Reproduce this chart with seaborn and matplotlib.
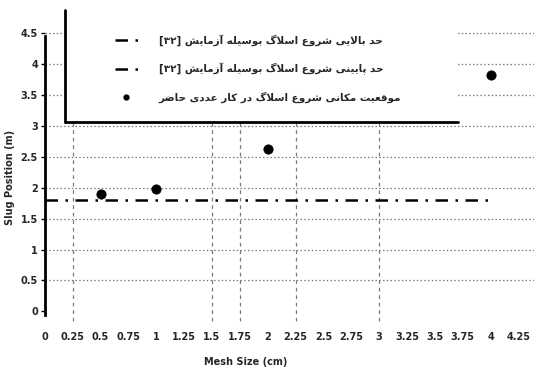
import matplotlib
matplotlib.use("Agg")
import matplotlib.pyplot as plt
from matplotlib.lines import Line2D
from matplotlib.patches import Rectangle
import seaborn as sns
import pandas as pd

# ---- data -------------------------------------------------------------
mesh_size = [0.5, 1.0, 2.0, 4.0]
slug_position = [1.89, 1.98, 2.63, 3.82]

lower_limit_x = [0.0, 4.0]
lower_limit_y = [1.8, 1.8]

x_ticks = [0, 0.25, 0.5, 0.75, 1, 1.25, 1.5, 1.75, 2, 2.25, 2.5, 2.75,
           3, 3.25, 3.5, 3.75, 4, 4.25]
y_ticks = [0, 0.5, 1, 1.5, 2, 2.5, 3, 3.5, 4, 4.5]
x_grid = [0.25, 1.5, 1.75, 2.25, 3.0]

label_upper = "حد بالایی شروع اسلاگ بوسیله آزمایش"
label_lower = "حد پایینی شروع اسلاگ بوسیله آزمایش"
label_points = "موقعیت مکانی شروع اسلاگ در کار عددی حاضر"
ref_tag = "[۳۲]"

# ---- minimal Persian shaping (matplotlib draws glyphs left to right) ---
FORMS = {
    "ا": (0xFE8D, 0xFE8E), "آ": (0xFE81, 0xFE82),
    "د": (0xFEA9, 0xFEAA), "ر": (0xFEAD, 0xFEAE), "ز": (0xFEAF, 0xFEB0),
    "و": (0xFEED, 0xFEEE),
    "ب": (0xFE8F, 0xFE90, 0xFE91, 0xFE92), "پ": (0xFB56, 0xFB57, 0xFB58, 0xFB59),
    "ت": (0xFE95, 0xFE96, 0xFE97, 0xFE98), "ح": (0xFEA1, 0xFEA2, 0xFEA3, 0xFEA4),
    "س": (0xFEB1, 0xFEB2, 0xFEB3, 0xFEB4), "ش": (0xFEB5, 0xFEB6, 0xFEB7, 0xFEB8),
    "ض": (0xFEBD, 0xFEBE, 0xFEBF, 0xFEC0), "ع": (0xFEC9, 0xFECA, 0xFECB, 0xFECC),
    "ق": (0xFED5, 0xFED6, 0xFED7, 0xFED8), "ک": (0xFB8E, 0xFB8F, 0xFB90, 0xFB91),
    "گ": (0xFB92, 0xFB93, 0xFB94, 0xFB95), "ل": (0xFEDD, 0xFEDE, 0xFEDF, 0xFEE0),
    "م": (0xFEE1, 0xFEE2, 0xFEE3, 0xFEE4), "ن": (0xFEE5, 0xFEE6, 0xFEE7, 0xFEE8),
    "ه": (0xFEE9, 0xFEEA, 0xFEEB, 0xFEEC), "ی": (0xFBFC, 0xFBFD, 0xFBFE, 0xFBFF),
}
LAM_ALEF = {"ا": (0xFEFB, 0xFEFC), "آ": (0xFEF5, 0xFEF6)}


def shape_fa(text):
    out = []
    i = 0
    n = len(text)
    while i < n:
        c = text[i]
        if c not in FORMS:
            out.append(c)
            i += 1
            continue
        prev = text[i - 1] if i > 0 else ""
        joins_prev = prev in FORMS and len(FORMS[prev]) == 4
        if c == "ل" and i + 1 < n and text[i + 1] in LAM_ALEF:
            iso, fin = LAM_ALEF[text[i + 1]]
            out.append(chr(fin if joins_prev else iso))
            i += 2
            continue
        nxt = text[i + 1] if i + 1 < n else ""
        f = FORMS[c]
        joins_next = len(f) == 4 and nxt in FORMS
        if joins_prev and joins_next:
            g = f[3]
        elif joins_prev:
            g = f[1]
        elif joins_next:
            g = f[2]
        else:
            g = f[0]
        out.append(chr(g))
        i += 1
    return "".join(reversed(out))


# ---- figure -----------------------------------------------------------
sns.set_style("white")
plt.rcParams["font.family"] = ["DejaVu Sans"]

fig = plt.figure(figsize=(5.34, 3.69), dpi=100)
ax = fig.add_axes([0.084, 0.146, 0.916, 0.832])

grid_kw = dict(color="#7a7a7a", linewidth=0.9, zorder=0, clip_on=False)
for yv in y_ticks[1:]:
    ax.axhline(yv, linestyle=(0, (1.2, 1.8)), **grid_kw)
for xv in x_grid:
    ax.axvline(xv, ymin=-0.02, linestyle=(0, (3, 3)), **grid_kw)

dash_dot = (0, (5, 3, 1, 3))
sns.lineplot(x=lower_limit_x, y=lower_limit_y, ax=ax, color="black",
             linewidth=1.8, linestyle=dash_dot, zorder=3)

df = pd.DataFrame({"mesh": mesh_size, "pos": slug_position})
sns.scatterplot(data=df, x="mesh", y="pos", ax=ax, color="black",
                marker="o", s=45, edgecolor="black", zorder=4)

ax.set_xlim(0, 4.39)
ax.set_ylim(-0.06, 4.9)
ax.set_xticks(x_ticks)
ax.set_xticklabels([f"{v:g}" for v in x_ticks], fontsize=7, fontweight="bold")
ax.set_yticks(y_ticks)
ax.set_yticklabels([f"{v:g}" for v in y_ticks], fontsize=7, fontweight="bold")
ax.tick_params(axis="x", length=0, pad=12)
ax.tick_params(axis="y", length=3, width=1, color="black", left=True, pad=2)

for side in ["top", "right", "bottom"]:
    ax.spines[side].set_visible(False)
ax.spines["left"].set_linewidth(2)
ax.spines["left"].set_color("black")
ax.spines["left"].set_bounds(-0.06, 4.45)

ax.set_xlabel("Mesh Size (cm)", fontsize=7, fontweight="bold")
ax.set_ylabel("Slug Position (m)", fontsize=7, fontweight="bold")
ax.xaxis.set_label_coords(0.41, -0.135)
ax.yaxis.set_label_coords(-0.062, 0.45)

# white legend panel with heavy left and bottom borders
box_x0, box_y0, box_x1, box_y1 = 0.041, 0.629, 0.845, 0.993
ax.add_patch(Rectangle((box_x0, box_y0), box_x1 - box_x0, box_y1 - box_y0,
                       transform=ax.transAxes, facecolor="white",
                       edgecolor="none", zorder=9, clip_on=False))
ax.add_line(Line2D([box_x0, box_x0], [box_y0, box_y1], color="black",
                   linewidth=2, transform=ax.transAxes, zorder=11,
                   clip_on=False))
ax.add_line(Line2D([box_x0, box_x1], [box_y0, box_y0], color="black",
                   linewidth=2, transform=ax.transAxes, zorder=11,
                   clip_on=False))

handles = [
    Line2D([], [], color="black", linewidth=1.8, linestyle=dash_dot),
    Line2D([], [], color="black", linewidth=1.8, linestyle=dash_dot),
    Line2D([], [], color="black", marker="o", markersize=3.5, linestyle="none"),
]
labels = [
    ref_tag + " " + shape_fa(label_upper),
    ref_tag + " " + shape_fa(label_lower),
    shape_fa(label_points),
]
leg = ax.legend(handles, labels, loc="upper left",
                bbox_to_anchor=(0.143, 0.915), fontsize=7.5,
                handlelength=2.2, labelspacing=1.6, borderpad=0.0,
                frameon=False, borderaxespad=0.0, handletextpad=2.0)
leg.set_zorder(12)
for t in leg.get_texts():
    t.set_fontweight("bold")

fig.savefig("out.png", dpi=100)
